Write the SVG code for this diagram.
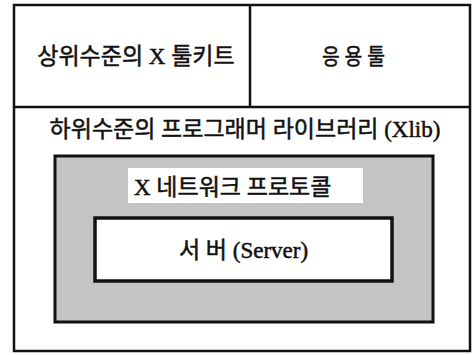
<svg xmlns="http://www.w3.org/2000/svg" width="473" height="355" viewBox="0 0 473 355">
<style>
.t{font-family:"Liberation Serif","Noto Sans CJK KR",serif;font-size:23px;fill:#111;stroke:#111;stroke-width:0.5;}
.frame{fill:none;stroke:#111;stroke-width:2.5;}
.ln{stroke:#111;stroke-width:2.5;}
</style>
<rect width="473" height="355" fill="#fff"/>
<g id="outer">
<rect class="frame" x="14" y="5" width="456" height="346"/>
<line class="ln" x1="250" y1="5" x2="250" y2="107"/>
<line class="ln" x1="14" y1="107" x2="470" y2="107"/>
</g>
<g id="toolkit">
<text class="t" x="136" y="64" text-anchor="middle">상위수준의 X 툴키트</text>
</g>
<g id="apps">
<text class="t" x="322" y="64" style="font-size:22px" textLength="63" lengthAdjust="spacingAndGlyphs">응 용 툴</text>
</g>
<g id="xlib">
<text class="t" x="245" y="137" text-anchor="middle">하위수준의 프로그래머 라이브러리 (Xlib)</text>
</g>
<g id="protocol">
<rect x="55" y="156" width="378" height="166" fill="#c4c4c4" stroke="#111" stroke-width="3"/>
<rect x="128" y="168" width="235" height="35" fill="#fff"/>
<text class="t" x="134" y="195">X 네트워크 프로토콜</text>
</g>
<g id="server">
<rect x="95" y="218" width="297" height="63" fill="#fff" stroke="#111" stroke-width="3.5"/>
<text class="t" x="243.5" y="258" text-anchor="middle">서 버 (Server)</text>
</g>
</svg>
